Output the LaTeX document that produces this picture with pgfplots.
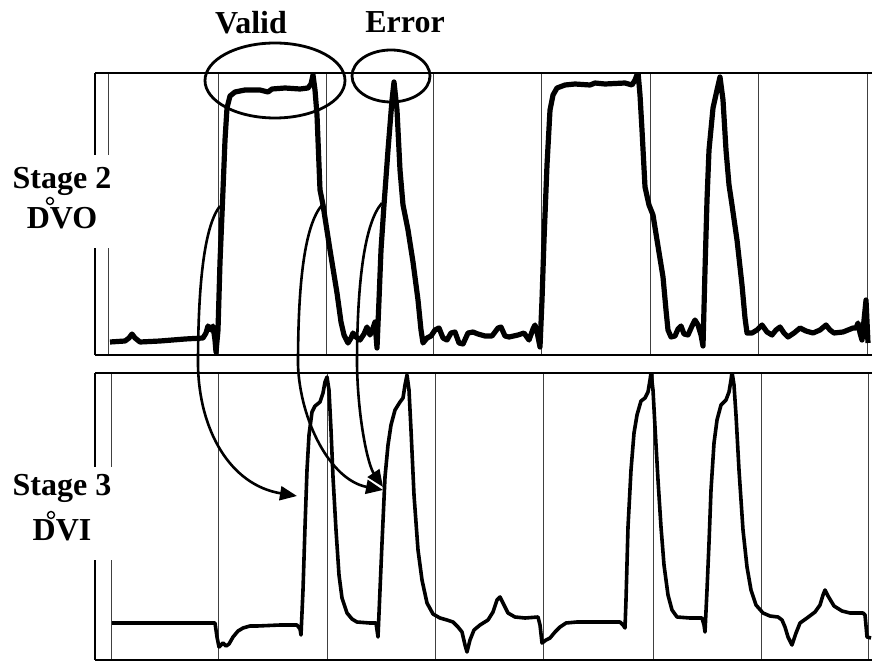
\documentclass[border=0pt]{standalone}
\usepackage{pgfplots}
\pgfplotsset{compat=1.18}
\usepackage{fontspec}
\setmainfont{Liberation Serif}
\usetikzlibrary{arrows.meta}
\pgfplotsset{panel/.style={
  scale only axis, width=388.5pt, xmin=95, xmax=872, y dir=reverse,
  axis x line*=box, axis y line*=left,
  ytick=\empty, xticklabel=\empty, major tick length=0pt,
  xmajorgrids, grid style={black!75, line width=0.5pt},
  axis line style={line width=0.8pt},
}}
\begin{document}
\begin{tikzpicture}
\useasboundingbox (0,0) rectangle (436pt,-331pt);
% Stage 2 (DVO)
\begin{axis}[panel, height=141pt, ymin=73, ymax=355, at={(47.5pt,-177.5pt)}, anchor=south west,
  xtick={108,218,326,433,541,650,758,867}]
\addplot[black, line width=2.6pt, line join=round] coordinates {
(110,342) (125,341) (129,338) (132,334) (135,338) (140,342) (160,341) (185,339) (203,338) (206,333) (208,326) (211,330) (213,326) (215,340) (216,352) (218,330) (220,262) (223,190) (225,140) (227,108) (230,96) (235,92) (245,90) (260,90) (268,92) (272,89) (285,88) (300,89) (308,88) (311,84) (313,75) (315,90) (317,115) (320,190) (323,205) (330,250) (337,293) (341,322) (344,335) (348,343) (351,338) (353,333) (356,337) (360,340) (364,334) (367,327) (370,335) (373,328) (375,322) (377,348) (379,300) (381,250) (384,205) (388,150) (392,100) (394,82) (397,110) (400,170) (403,205) (408,230) (413,262) (418,300) (421,330) (423,343) (427,338) (431,336) (435,330) (439,328) (443,338) (447,340) (451,333) (455,332) (459,343) (463,344) (468,333) (473,332) (478,334) (485,336) (492,336) (498,328) (501,327) (505,336) (509,337) (518,335) (524,333) (529,340) (533,329) (535,325) (537,332) (540,347) (542,300) (544,240) (547,165) (550,110) (553,95) (557,88) (565,85) (575,84) (590,85) (595,83) (605,84) (625,83) (632,85) (635,80) (638,72) (640,95) (642,130) (645,187) (649,205) (653,215) (657,240) (663,277) (666,310) (668,330) (671,337) (675,336) (678,329) (681,326) (684,334) (688,335) (692,326) (695,320) (698,325) (701,335) (703,346) (705,270) (707,200) (709,150) (713,108) (717,90) (720,77) (723,100) (726,150) (729,185) (732,205) (737,240) (742,285) (745,318) (747,333) (752,333) (757,330) (762,325) (767,332) (772,335) (776,330) (780,327) (784,333) (788,337) (794,333) (800,328) (806,331) (813,333) (820,330) (826,325) (830,330) (834,333) (843,332) (853,328) (856,328) (858,323) (860,333) (862,340) (864,320) (866,300) (868,343)
};
\end{axis}
% Stage 3 (DVI)
\begin{axis}[panel, height=143.5pt, ymin=373, ymax=660, at={(47.5pt,-330pt)}, anchor=south west,
  xtick={111,218,327,435,543,653,761,868}]
\addplot[black, line width=1.8pt, line join=round] coordinates {
(112,623) (150,623) (200,623) (215,623) (217,637) (219,647) (223,643) (226,646) (229,644) (233,637) (238,631) (243,628) (250,626) (257,626) (280,625) (297,625) (300,629) (301,635) (303,590) (305,527) (307,470) (309,435) (312,412) (315,406) (320,402) (323,393) (325,382) (327,377) (329,390) (331,430) (333,477) (336,530) (339,575) (342,598) (347,613) (352,619) (357,622) (370,623) (376,623) (378,637) (380,590) (382,543) (385,477) (388,445) (391,425) (395,410) (400,402) (403,398) (405,385) (407,375) (409,390) (411,430) (414,495) (418,550) (422,580) (427,603) (433,614) (440,618) (447,620) (453,622) (458,627) (462,632) (465,645) (467,652) (470,640) (474,630) (480,625) (488,620) (493,612) (497,600) (500,597) (503,603) (508,613) (515,617) (525,618) (538,617) (540,625) (542,643) (546,640) (550,638) (555,632) (560,627) (566,623) (577,622) (600,622) (620,622) (623,625) (625,628) (626,600) (628,527) (631,470) (634,433) (637,415) (641,401) (645,398) (648,392) (650,380) (651,373) (653,390) (655,427) (658,480) (661,527) (664,565) (668,595) (672,610) (677,617) (690,618) (702,618) (704,625) (705,632) (707,590) (709,543) (711,490) (714,443) (717,420) (721,405) (726,400) (729,392) (731,380) (732,372) (734,385) (736,415) (739,470) (743,530) (747,567) (751,590) (756,605) (763,613) (770,616) (778,617) (782,620) (785,627) (788,637) (792,645) (796,633) (800,623) (807,618) (815,612) (820,605) (823,595) (825,590) (828,596) (834,606) (842,611) (850,613) (863,613) (865,615) (867,637) (871,638)
};
\end{axis}
% annotations in pixel units
\begin{scope}[x=0.5pt, y=-0.5pt]
\fill[white] (88,155) rectangle (116,248);
\fill[white] (88,467) rectangle (116,560);
\draw[line width=1.4pt] (275,80.5) ellipse [x radius=70, y radius=37.5];
\draw[line width=1.4pt] (391,76) ellipse [x radius=39, y radius=26];
\begin{scope}[line width=1.3pt, -{Triangle[length=8.5pt,width=7pt]}]
\draw (220,206) .. controls (205,225) and (198,280) .. (198,365) .. controls (199,430) and (230,485) .. (297,496);
\draw (322,205) .. controls (305,225) and (298,280) .. (298,365) .. controls (300,420) and (330,480) .. (383,490);
\draw (382,203) .. controls (365,222) and (357,280) .. (357,365) .. controls (358,420) and (368,465) .. (383,487);
\end{scope}
\begin{scope}[every node/.style={font=\fontsize{16pt}{18pt}\selectfont\bfseries, inner sep=0pt, anchor=base}]
\node at (251,34) {Valid};
\node at (405,33) {Error};
\node at (62,189) {Stage 2};
\node at (62,229) {DVO};
\node at (62,495) {Stage 3};
\node at (62,540) {DVI};
\end{scope}
\draw[line width=0.7pt] (50,201) circle [radius=3.5];
\draw[line width=0.7pt] (51,515) circle [radius=3.5];
\end{scope}
\end{tikzpicture}
\end{document}
